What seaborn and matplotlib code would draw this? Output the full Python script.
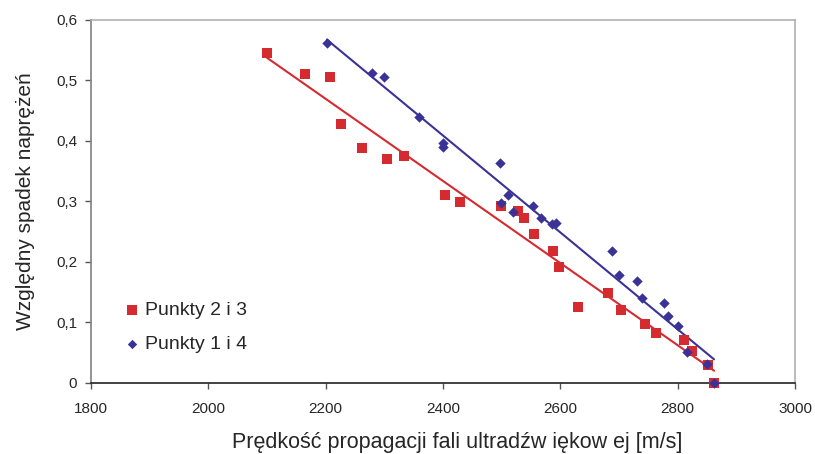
import numpy as np
import pandas as pd
import matplotlib.pyplot as plt
from matplotlib.ticker import FuncFormatter
import seaborn as sns

# Punkty 2 i 3 (czerwone kwadraty)
v_23 = [2100, 2165, 2207, 2226, 2262, 2305, 2334, 2404, 2429, 2499, 2528, 2538,
        2555, 2588, 2598, 2630, 2681, 2704, 2745, 2763, 2811, 2825, 2852, 2862]
s_23 = [0.545, 0.511, 0.506, 0.428, 0.388, 0.370, 0.375, 0.311, 0.299, 0.293, 0.284, 0.273,
        0.246, 0.218, 0.192, 0.126, 0.148, 0.121, 0.098, 0.083, 0.071, 0.053, 0.030, 0.0]

# Punkty 1 i 4 (niebieskie romby)
v_14 = [2202, 2279, 2300, 2359, 2400, 2400, 2497, 2499, 2511, 2520, 2554, 2567,
        2586, 2593, 2688, 2700, 2731, 2739, 2777, 2784, 2801, 2816, 2850, 2862]
s_14 = [0.562, 0.512, 0.506, 0.440, 0.397, 0.390, 0.364, 0.298, 0.311, 0.283, 0.292, 0.273,
        0.262, 0.265, 0.218, 0.178, 0.169, 0.140, 0.132, 0.111, 0.095, 0.051, 0.031, 0.0]

x_ticks = [1800, 2000, 2200, 2400, 2600, 2800, 3000]
y_ticks = [0, 0.1, 0.2, 0.3, 0.4, 0.5, 0.6]

df23 = pd.DataFrame({'v': v_23, 's': s_23})
df14 = pd.DataFrame({'v': v_14, 's': s_14})

red = '#D52A2F'
blue = '#3A3296'

sns.set_style('white')
plt.rcParams['font.family'] = ['Liberation Sans', 'DejaVu Sans']

fig = plt.figure(figsize=(8.15, 4.54), dpi=100)
ax = fig.add_axes([0.1117, 0.1564, 0.8638, 0.7996])

# linie trendu
sns.regplot(data=df23, x='v', y='s', scatter=False, ci=None, truncate=True,
            line_kws={'color': red, 'lw': 1.5}, ax=ax)
sns.regplot(data=df14, x='v', y='s', scatter=False, ci=None, truncate=True,
            line_kws={'color': blue, 'lw': 1.5}, ax=ax)
sns.scatterplot(data=df23, x='v', y='s', marker='s', s=55, color=red,
                edgecolor=red, linewidth=0, clip_on=False, zorder=3,
                label='Punkty 2 i 3', ax=ax)
sns.scatterplot(data=df14, x='v', y='s', marker='D', s=28, color=blue,
                edgecolor=blue, linewidth=0, clip_on=False, zorder=4,
                label='Punkty 1 i 4', ax=ax)

ax.set_xlim(1800, 3000)
ax.set_ylim(0, 0.6)
ax.set_xticks(x_ticks)
ax.set_yticks(y_ticks)
ax.yaxis.set_major_formatter(FuncFormatter(lambda y, p: ('%g' % round(y, 1)).replace('.', ',')))
ax.tick_params(axis='both', direction='out', length=4, width=1, color='#555555',
               labelsize=11, bottom=True, left=True, pad=6)
ax.tick_params(axis='x', pad=10)

ax.set_xlabel('Prędkość propagacji fali ultradźw iękow ej [m/s]', fontsize=15.5, labelpad=10)
ax.xaxis.set_label_coords(0.52, -0.135)
ax.set_ylabel('Względny spadek naprężeń', fontsize=15, labelpad=15)

ax.spines['left'].set_color('#808080')
ax.spines['bottom'].set_color('#222222')
ax.spines['top'].set_color('#B0B0B0')
ax.spines['right'].set_color('#B0B0B0')
for sp in ax.spines.values():
    sp.set_linewidth(1.2)

ax.legend(loc='upper left', bbox_to_anchor=(0.140, 0.354), bbox_transform=fig.transFigure,
          borderaxespad=0, frameon=False, fontsize=14, handlelength=1,
          handletextpad=0.2, labelspacing=0.85, markerscale=0.9)

fig.savefig('out.png', dpi=100)
